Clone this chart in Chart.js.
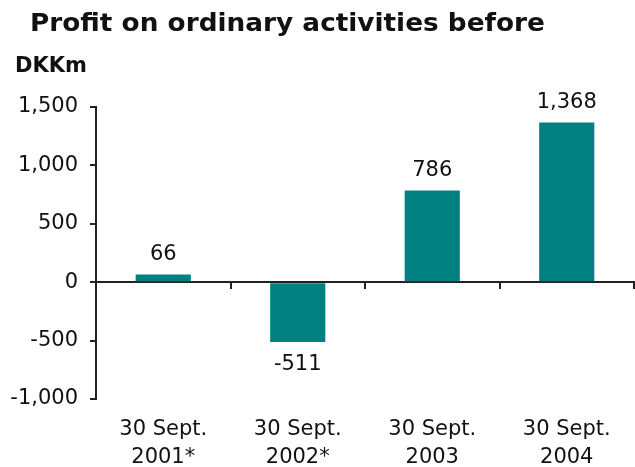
<!DOCTYPE html>
<html lang="en">
<head>
    <meta charset="UTF-8">
    <title>Profit on ordinary activities before</title>
    <script src="https://cdn.jsdelivr.net/npm/chart.js"></script>
    <style>
        html, body { margin: 0; padding: 0; background: #fff; }
        .wrap { position: relative; width: 635px; height: 467px; }
        .titulo {
            position: absolute; left: 30px; top: 8px; white-space: nowrap;
            font: bold 25px "DejaVu Sans", Verdana, sans-serif; color: #111;
            transform: scaleX(1.053); transform-origin: 0 0;
        }
        .unidad {
            position: absolute; left: 15px; top: 53px;
            font: bold 21px "DejaVu Sans", Verdana, sans-serif; color: #111;
        }
        canvas { position: absolute; left: 0; top: 0; }
    </style>
</head>
<body>
    <div class="wrap">
        <canvas id="grafico" width="635" height="467"></canvas>
        <div class="titulo">Profit on ordinary activities before</div>
        <div class="unidad">DKKm</div>
    </div>
    <script>
        const categorias = [['30 Sept.', '2001*'], ['30 Sept.', '2002*'], ['30 Sept.', '2003'], ['30 Sept.', '2004']];
        const valores = [66, -511, 786, 1368];
        const ejeMin = -1000;
        const ejeMax = 1500;
        const paso = 500;

        const fuente = '"DejaVu Sans", Verdana, sans-serif';
        const fmt = v => v.toLocaleString('en-US');

        // etiquetas de valor encima / debajo de cada barra
        const etiquetas = {
            id: 'etiquetas',
            afterDatasetsDraw(chart) {
                const ctx = chart.ctx;
                const meta = chart.getDatasetMeta(0);
                ctx.save();
                ctx.font = '21px ' + fuente;
                ctx.fillStyle = '#111';
                ctx.textAlign = 'center';
                ctx.textBaseline = 'alphabetic';
                meta.data.forEach((bar, i) => {
                    const v = valores[i];
                    if (v >= 0) {
                        ctx.fillText(fmt(v), bar.x, bar.y - 14);
                    } else {
                        ctx.fillText(fmt(v), bar.x, bar.y + 28);
                    }
                });
                ctx.restore();
            }
        };

        new Chart(document.getElementById('grafico'), {
            type: 'bar',
            data: {
                labels: categorias,
                datasets: [{
                    data: valores,
                    backgroundColor: '#008080',
                    borderWidth: 0,
                    barPercentage: 0.82,
                    categoryPercentage: 0.5,
                    xAxisID: 'x'
                }]
            },
            options: {
                responsive: false,
                animation: false,
                layout: { padding: { top: 107, right: 1, left: 0, bottom: 0 } },
                plugins: { legend: { display: false }, tooltip: { enabled: false } },
                scales: {
                    x: {
                        type: 'category',
                        position: { y: 0 },
                        offset: true,
                        ticks: { display: false },
                        grid: { offset: true, drawOnChartArea: false, drawTicks: true, tickLength: 6, color: '#222', lineWidth: 2 },
                        border: { color: '#222', width: 2 }
                    },
                    x2: {
                        type: 'category',
                        position: 'bottom',
                        labels: categorias,
                        offset: true,
                        grid: { display: false },
                        border: { display: false },
                        ticks: { color: '#111', font: { family: fuente, size: 21, lineHeight: 1.35 }, padding: 8, maxRotation: 0 },
                        afterFit(s) { s.height = 68; }
                    },
                    y: {
                        min: ejeMin,
                        max: ejeMax,
                        ticks: { stepSize: paso, color: '#111', font: { family: fuente, size: 21 }, padding: 12, callback: v => fmt(v) },
                        grid: { drawOnChartArea: false, drawTicks: true, tickLength: 6, color: '#222', lineWidth: 2 },
                        border: { color: '#222', width: 2 },
                        afterFit(s) { s.width = 96; }
                    }
                }
            },
            plugins: [etiquetas]
        });
    </script>
</body>
</html>
